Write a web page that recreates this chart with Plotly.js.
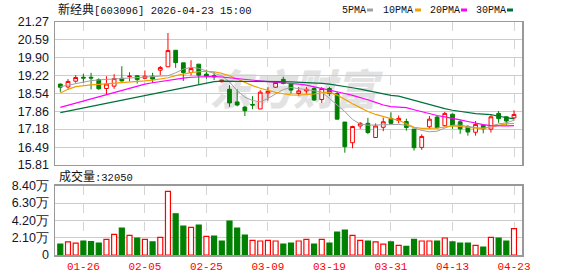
<!DOCTYPE html>
<html><head><meta charset="utf-8">
<script src="https://cdn.plot.ly/plotly-3.0.1.min.js"></script>
<style>html,body{margin:0;padding:0;background:#fff}#chart{width:578px;height:276px}</style>
</head><body><div id="chart"></div>
<script>
const dates = ['01-21','01-22','01-23','01-26','01-27','01-28','01-29','01-30','02-02','02-03',
  '02-04','02-05','02-06','02-09','02-10','02-11','02-12','02-13','02-24','02-25',
  '02-26','02-27','03-02','03-03','03-04','03-05','03-06','03-09','03-10','03-11',
  '03-12','03-13','03-16','03-17','03-18','03-19','03-20','03-23','03-24','03-25',
  '03-26','03-27','03-30','03-31','04-01','04-02','04-03','04-07','04-08','04-09',
  '04-10','04-13','04-14','04-15','04-16','04-17','04-20','04-21','04-22','04-23'];
const openP = [18.90,18.79,19.01,19.16,19.16,19.07,18.73,18.82,19.12,19.19,
  19.22,19.12,19.20,19.43,19.56,20.19,19.71,19.34,19.66,19.28,
  19.23,18.99,18.70,18.22,18.02,18.12,17.95,18.56,18.78,19.08,
  18.90,18.54,18.64,18.73,18.31,18.73,18.54,17.45,16.66,17.30,
  17.40,16.86,17.25,17.59,17.51,17.47,17.18,16.48,17.27,17.64,
  17.31,17.75,17.46,17.28,17.06,17.33,17.18,17.78,17.65,17.61];
const highP = [18.92,19.09,19.24,19.30,19.33,19.12,19.20,19.28,19.58,19.35,
  19.22,19.42,19.33,19.59,20.85,20.19,19.71,19.81,19.66,19.45,
  19.36,19.07,18.86,18.70,18.06,18.44,18.67,18.78,19.01,19.18,
  18.92,18.79,18.79,18.79,18.79,18.79,18.60,17.45,17.31,17.45,
  17.61,17.40,17.62,17.82,17.70,17.58,17.18,16.98,17.68,17.68,
  17.84,17.77,17.52,17.33,17.49,17.35,17.71,17.87,17.67,17.90];
const lowP = [18.60,18.72,18.95,18.95,18.70,18.68,18.48,18.72,19.00,19.01,
  18.92,19.11,18.95,19.24,19.55,19.52,19.02,19.23,18.90,19.10,
  19.05,18.96,18.03,18.05,17.68,17.94,17.95,18.27,18.75,18.89,
  18.54,18.44,18.54,18.26,18.18,18.44,17.55,16.28,16.45,17.19,
  16.99,16.86,17.10,17.37,17.40,17.12,16.36,16.39,17.18,17.22,
  17.27,17.19,17.00,16.93,16.93,17.02,17.05,17.42,17.33,17.56];
const closeP = [18.78,19.00,19.15,19.13,19.13,18.72,18.90,19.11,19.02,19.20,
  19.07,19.20,19.09,19.53,20.18,19.72,19.34,19.49,19.24,19.20,
  19.17,19.05,18.18,18.10,17.88,18.10,18.59,18.62,18.96,18.92,
  18.67,18.64,18.70,18.29,18.73,18.54,17.56,16.51,17.28,17.40,
  17.05,17.30,17.46,17.40,17.59,17.24,16.47,16.90,17.56,17.23,
  17.78,17.33,17.19,17.07,17.36,17.19,17.65,17.58,17.49,17.74];
const volume = [13300,15800,14500,17000,16200,14500,19000,25000,32700,23800,
  20600,19000,15800,21400,77100,50000,35100,33500,36300,22600,
  23000,17000,41200,32700,24200,17800,17000,17800,17000,13300,
  14500,17000,19000,13300,19000,14500,27900,30300,23800,17800,
  17000,15800,13300,15800,11700,10500,19000,17000,17000,17000,
  20600,15800,14500,14500,11700,9700,21400,20600,17000,32050];
const volDir = ['d','u','u','d','d','d','u','u','d','u',
  'd','u','d','u','u','d','d','u','d','u',
  'd','d','d','d','d','u','u','u','u','d',
  'd','u','u','d','u','d','d','d','u','u',
  'd','u','u','d','u','d','d','u','u','d',
  'u','d','d','d','u','d','u','d','d','u'];
const ma5 = [18.80,18.86,18.93,18.98,19.03,19.06,19.08,19.10,19.11,19.12,
  19.14,19.16,19.18,19.20,19.22,19.33,19.47,19.54,19.50,19.40,
  19.30,19.22,18.98,18.65,18.40,18.27,18.22,18.35,18.52,18.69,
  18.77,18.73,18.69,18.63,18.60,18.35,18.10,17.85,17.55,17.37,
  17.33,17.34,17.33,17.35,17.36,17.33,17.22,17.13,17.08,17.10,
  17.22,17.33,17.33,17.29,17.25,17.19,17.30,17.38,17.42,17.52];
const ma10 = [18.56,18.70,18.80,18.84,18.87,18.89,18.91,18.92,18.94,18.97,
  19.00,19.02,19.05,19.09,19.14,19.22,19.29,19.34,19.37,19.39,
  19.37,19.31,19.22,19.09,18.97,18.84,18.74,18.66,18.58,18.53,
  18.49,18.48,18.49,18.52,18.56,18.58,18.48,18.30,18.15,18.00,
  17.85,17.74,17.65,17.58,17.52,17.40,17.25,17.21,17.21,17.22,
  17.26,17.30,17.28,17.25,17.22,17.22,17.25,17.32,17.38,17.40];
const ma20 = [18.01,18.09,18.17,18.25,18.33,18.41,18.49,18.57,18.66,18.74,
  18.82,18.90,18.95,19.00,19.05,19.10,19.13,19.16,19.17,19.18,
  19.19,19.17,19.14,19.11,19.07,19.03,19.00,18.99,18.97,18.95,
  18.93,18.90,18.86,18.80,18.74,18.67,18.61,18.54,18.47,18.39,
  18.30,18.20,18.10,18.04,18.02,18.00,17.92,17.84,17.76,17.70,
  17.65,17.60,17.53,17.47,17.40,17.35,17.31,17.30,17.30,17.31];
const ma30 = [17.81,17.87,17.93,17.99,18.05,18.11,18.17,18.23,18.29,18.35,
  18.41,18.47,18.53,18.59,18.65,18.71,18.77,18.83,18.89,18.95,
  18.99,19.01,19.01,19.01,19.00,19.00,19.00,19.00,18.99,18.99,
  18.98,18.97,18.96,18.95,18.93,18.90,18.86,18.81,18.76,18.71,
  18.65,18.60,18.53,18.47,18.44,18.36,18.28,18.20,18.12,18.03,
  17.96,17.90,17.85,17.80,17.77,17.75,17.73,17.67,17.62,17.57];
const tickLabels = ['01-26','02-05','02-25','03-09','03-19','03-31','04-13','04-23'];
const priceTicks = [15.81,16.49,17.18,17.86,18.54,19.22,19.90,20.59,21.27];
const volTicks = [0,21000,42000,63000,84000];
const volTickText = ['0','2.10万','4.20万','6.30万','8.40万'];
const maNames = ['5PMA','10PMA','20PMA','30PMA'];
const maColors = ['#a0a0a0','#f0a000','#ff00ff','#00703c'];

const RED = '#ff0000', GREEN = '#008000';
const mono = '"Liberation Mono", "Noto Sans CJK SC", monospace';
const cjk = '"Noto Sans CJK SC", "Liberation Mono", sans-serif';
const numFont = {family:'"Liberation Sans", Arial, sans-serif', size:12.5, color:'#141428'};

// layout helpers (pixel -> paper) for the page furniture only
const PL = 55, PW = 467, PB = 255, PH = 233;
const px = v => (v - PL) / PW;
const py = v => (PB - v) / PH;

const traces = [];
traces.push({
  type:'candlestick', x:dates, open:openP, high:highP, low:lowP, close:closeP,
  xaxis:'x', yaxis:'y', hoverinfo:'skip', whiskerwidth:0,
  increasing:{line:{color:RED, width:1}, fillcolor:'#ffffff'},
  decreasing:{line:{color:GREEN, width:1}, fillcolor:GREEN}
});
[ma5, ma10, ma20, ma30].forEach((m, i) => traces.push({
  type:'scatter', mode:'lines', x:dates, y:m, xaxis:'x', yaxis:'y',
  line:{color:maColors[i], width:i === 0 ? 1 : 1.2}, hoverinfo:'skip', name:maNames[i]
}));
traces.push({
  type:'bar', x:dates, y:volume, xaxis:'x2', yaxis:'y2', hoverinfo:'skip',
  marker:{color:volDir.map(d => d === 'u' ? '#ffffff' : GREEN),
          line:{color:volDir.map(d => d === 'u' ? RED : GREEN), width:1.2}}
});

const xCommon = {
  type:'category', range:[-0.69, 60.04], tickvals:tickLabels, ticktext:tickLabels,
  showgrid:true, gridcolor:'#d4d4d4', griddash:'dash', gridwidth:1,
  showline:true, mirror:true, linecolor:'#999999', linewidth:1.5,
  zeroline:false, ticks:'', fixedrange:true
};
const yCommon = {
  showgrid:true, gridcolor:'#cccccc', gridwidth:1, showline:true, mirror:true,
  linecolor:'#999999', linewidth:1.5, zeroline:false, ticks:'', tickfont:numFont,
  fixedrange:true, ticklabelstandoff:2
};

const annotations = [
  {xref:'paper', yref:'paper', x:px(56), y:py(10), xanchor:'left', yanchor:'middle',
   text:'<span style="font-size:12px">新经典</span>[603096] 2026-04-23 15:00', showarrow:false,
   font:{family:mono, size:10.5, color:'#111'}},
  {xref:'paper', yref:'paper', x:px(57), y:py(177), xanchor:'left', yanchor:'middle',
   text:'<span style="font-size:12px">成交量</span>:' + volume[volume.length - 1], showarrow:false,
   font:{family:mono, size:10.5, color:'#111'}}
];
const shapes = [
  {type:'rect', xref:'paper', yref:'paper', x0:0.30, x1:0.72, y0:0.60, y1:0.79,
   layer:'below', line:{width:0}, fillcolor:'rgba(0,0,0,0)',
   label:{text:'东方财富', textposition:'middle center',
          font:{family:cjk, size:42, color:'#e2e2e2', weight:900, style:'italic'}}}
];
const legLeft = [340, 381, 428, 474];
const legSq = [367, 415, 461, 507];
maNames.forEach((n, i) => {
  annotations.push({xref:'paper', yref:'paper', x:px(legLeft[i]), y:py(10), xanchor:'left',
    yanchor:'middle', text:n, showarrow:false, font:{family:mono, size:10, color:'#111'}});
  shapes.push({type:'rect', xref:'paper', yref:'paper', x0:px(legSq[i]), x1:px(legSq[i] + 6),
    y0:py(11.5), y1:py(8.5), line:{width:0}, fillcolor:maColors[i]});
});

const layout = {
  width:578, height:276,
  margin:{l:55, r:56, t:22, b:21, pad:0},
  paper_bgcolor:'#ffffff', plot_bgcolor:'rgba(0,0,0,0)',
  showlegend:false, bargap:0.35,
  xaxis:Object.assign({}, xCommon, {anchor:'y', showticklabels:false, rangeslider:{visible:false}}),
  yaxis:Object.assign({}, yCommon, {domain:[0.3863, 1], range:[15.81, 21.27],
    tickvals:priceTicks, ticktext:priceTicks.map(v => v.toFixed(2))}),
  xaxis2:Object.assign({}, xCommon, {anchor:'y2', showticklabels:true,
    tickfont:{family:mono, size:11, color:RED}, ticklabelstandoff:0}),
  yaxis2:Object.assign({}, yCommon, {domain:[0, 0.2974], range:[0, 84000],
    tickvals:volTicks, ticktext:volTickText}),
  annotations:annotations,
  shapes:shapes
};

Plotly.newPlot('chart', traces, layout, {staticPlot:true, displayModeBar:false});
</script></body></html>
